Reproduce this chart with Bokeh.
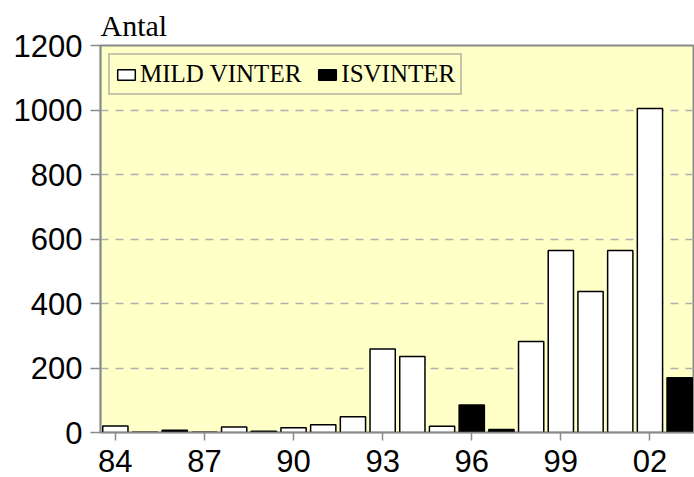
from bokeh.plotting import figure
from bokeh.models import Range1d, Legend, LegendItem, FixedTicker
from bokeh.embed import file_html
from bokeh.resources import INLINE

# data
years = list(range(84, 104))
mild_vinter = [20, None, None, None, 17, None, 15, 24, 49, 259, 236, 19,
               None, None, 282, 564, 437, 564, 1005, None]
isvinter = [None, 1, 7, 1, None, 4, None, None, None, None, None, None,
            85, 9, None, None, None, None, None, 170]
tick_years = [84, 87, 90, 93, 96, 99, 102]
tick_labels = ["84", "87", "90", "93", "96", "99", "02"]

BG = "#FFFFC8"
GRAY = "#8a8a8a"

mx = [y for y, v in zip(years, mild_vinter) if v is not None]
mv = [v for v in mild_vinter if v is not None]
ix = [y for y, v in zip(years, isvinter) if v is not None]
iv = [v for v in isvinter if v is not None]

p = figure(width=694, height=477, output_backend="svg",
           toolbar_location=None, x_range=Range1d(83.5, 103.5),
           y_range=Range1d(0, 1200), title="Antal",
           min_border_left=100, min_border_right=0, min_border_top=45,
           min_border_bottom=45)
p.background_fill_color = BG
p.border_fill_color = "white"
p.outline_line_color = GRAY
p.outline_line_width = 2

p.title.text_font = "Liberation Serif"
p.title.text_font_style = "normal"
p.title.text_font_size = "30px"
p.title.text_color = "black"
p.title.align = "left"
p.title.standoff = 7
p.title.offset = 0

r1 = p.vbar(x=mx, top=mv, width=0.85, fill_color="white", line_color="black", line_width=1.5)
r2 = p.vbar(x=ix, top=iv, width=0.85, fill_color="black", line_color="black", line_width=1.5)

p.xgrid.grid_line_color = None
p.ygrid.grid_line_color = "#b0b0b0"
p.ygrid.grid_line_dash = "8 7"
p.ygrid.grid_line_width = 1.5

p.yaxis.ticker = FixedTicker(ticks=[0, 200, 400, 600, 800, 1000, 1200])
p.xaxis.ticker = FixedTicker(ticks=tick_years)
p.xaxis.major_label_overrides = {t: l for t, l in zip(tick_years, tick_labels)}

for ax in (p.xaxis[0], p.yaxis[0]):
    ax.axis_line_color = GRAY
    ax.axis_line_width = 1.5
    ax.major_tick_line_color = GRAY
    ax.major_tick_line_width = 1.5
    ax.major_tick_in = 0
    ax.minor_tick_line_color = None
    ax.major_label_text_font = "Liberation Sans"
    ax.major_label_text_font_size = "31px"
    ax.major_label_text_color = "black"
p.yaxis.major_tick_out = 10
p.yaxis.major_label_standoff = 8
p.xaxis.major_tick_out = 8
p.xaxis.major_label_standoff = 9

legend = Legend(items=[LegendItem(label="MILD VINTER", renderers=[r1]),
                       LegendItem(label="ISVINTER", renderers=[r2])],
                location="top_left", orientation="horizontal")
legend.margin = 8
legend.padding = 5
legend.spacing = 15
legend.glyph_width = 22
legend.glyph_height = 13
legend.label_standoff = 3
legend.label_text_font = "Liberation Serif"
legend.label_text_font_size = "25px"
legend.label_text_color = "black"
legend.label_height = 22
legend.border_line_color = GRAY
legend.border_line_width = 2
legend.background_fill_color = BG
legend.background_fill_alpha = 1
p.add_layout(legend)

open("out.html", "w").write(file_html(p, INLINE))
